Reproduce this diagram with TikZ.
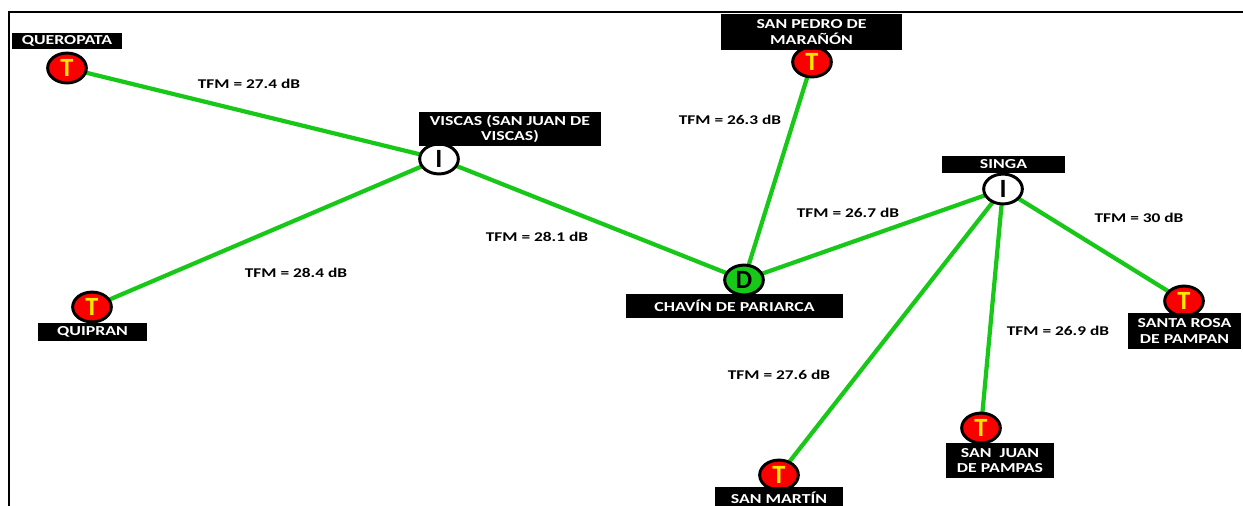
\documentclass[tikz,border=0pt]{standalone}
\usepackage{fontspec}
\setmainfont{Carlito}[FakeStretch=1.3]
\newfontfamily\glyphfont{Carlito}
\usetikzlibrary{shapes.geometric,backgrounds}
\definecolor{linkgreen}{RGB}{24,200,24}
\definecolor{termred}{RGB}{250,0,0}
\definecolor{termyellow}{RGB}{255,232,0}
\definecolor{distgreen}{RGB}{24,200,24}
\begin{document}
\begin{tikzpicture}[x=0.02cm,y=-0.02cm,
  site/.style={ellipse,draw=black,line width=1.7pt,minimum width=22pt,minimum height=17pt,inner sep=0pt,
    font=\glyphfont\bfseries\fontsize{15}{15}\selectfont},
  term/.style={site,fill=termred,text=termyellow},
  inter/.style={site,fill=white,text=black},
  dist/.style={site,fill=distgreen,text=black},
  namebox/.style={fill=black,text=white,align=center,inner sep=0pt,
    font=\bfseries\fontsize{7.8}{8.6}\selectfont},
  link/.style={draw=linkgreen,line width=2.4pt},
  tfm/.style={font=\bfseries\fontsize{7.6}{9}\selectfont,text=black,inner sep=0pt}]
\clip (0,0) rectangle (1243,505);
\useasboundingbox (0,0) rectangle (1243,505);
% outer frame
\draw[line width=1.2pt] (9,510) -- (9,12) -- (1243,12);

% sites
\node[term]  (quer)  at (67,68)   {T};
\node[inter] (visc)  at (439,159) {I};
\node[term]  (sped)  at (812,62)  {T};
\node[dist]  (chav)  at (744,280) {D};
\node[inter] (singa) at (1003,189) {I};
\node[term]  (srosa) at (1184,301) {T};
\node[term]  (sjuan) at (981,428) {T};
\node[term]  (smart) at (779,475) {T};
\node[term]  (quip)  at (92,307)  {T};

% site names
\node[namebox,minimum width=62.4pt,minimum height=9.1pt]  (querL)  at (67,40.5)   {QUEROPATA};
\node[namebox,minimum width=103.2pt,minimum height=19.3pt] (viscL) at (510,129)   {VISCAS (SAN JUAN DE\\VISCAS)};
\node[namebox,minimum width=102.6pt,minimum height=20.4pt] (spedL) at (811.5,32)  {SAN PEDRO DE\\MARAÑÓN};
\node[namebox,minimum width=123pt,minimum height=13.6pt]  (chavL)  at (734.5,306) {CHAVÍN DE PARIARCA};
\node[namebox,minimum width=69.7pt,minimum height=9.6pt]  (singaL) at (1003.5,164.5) {SINGA};
\node[namebox,minimum width=64.1pt,minimum height=20.4pt] (srosaL) at (1184.5,331) {SANTA ROSA\\DE PAMPAN};
\node[namebox,minimum width=61.2pt,minimum height=19.8pt] (sjuanL) at (1000,460.5) {SAN\ \ JUAN\\DE PAMPAS};
\node[namebox,minimum width=72.6pt,minimum height=12.5pt] (smartL) at (779,498)   {SAN MARTÍN};
\node[namebox,minimum width=61.8pt,minimum height=10.2pt] (quipL)  at (92.5,332)  {QUIPRAN};

% radio links
\begin{scope}[on background layer]
\draw[link] (quer.center)  -- (visc.center);
\draw[link] (quip.center)  -- (visc.center);
\draw[link] (visc.center)  -- (chav.center);
\draw[link] (sped.center)  -- (chav.center);
\draw[link] (chav.center)  -- (singa.center);
\draw[link] (singa.center) -- (srosa.center);
\draw[link] (singa.center) -- (sjuan.center);
\draw[link] (singa.center) -- (smart.center);
\end{scope}

% fade margins
\node[tfm] (m1) at (249,84)   {TFM = 27.4 dB};
\node[tfm] (m2) at (730,120)  {TFM = 26.3 dB};
\node[tfm] (m3) at (848,213)  {TFM = 26.7 dB};
\node[tfm] (m4) at (537,237)  {TFM = 28.1 dB};
\node[tfm] (m5) at (296,273)  {TFM = 28.4 dB};
\node[tfm] (m6) at (1139,218) {TFM = 30 dB};
\node[tfm] (m7) at (1058,331) {TFM = 26.9 dB};
\node[tfm] (m8) at (779,375)  {TFM = 27.6 dB};
\end{tikzpicture}
\end{document}
